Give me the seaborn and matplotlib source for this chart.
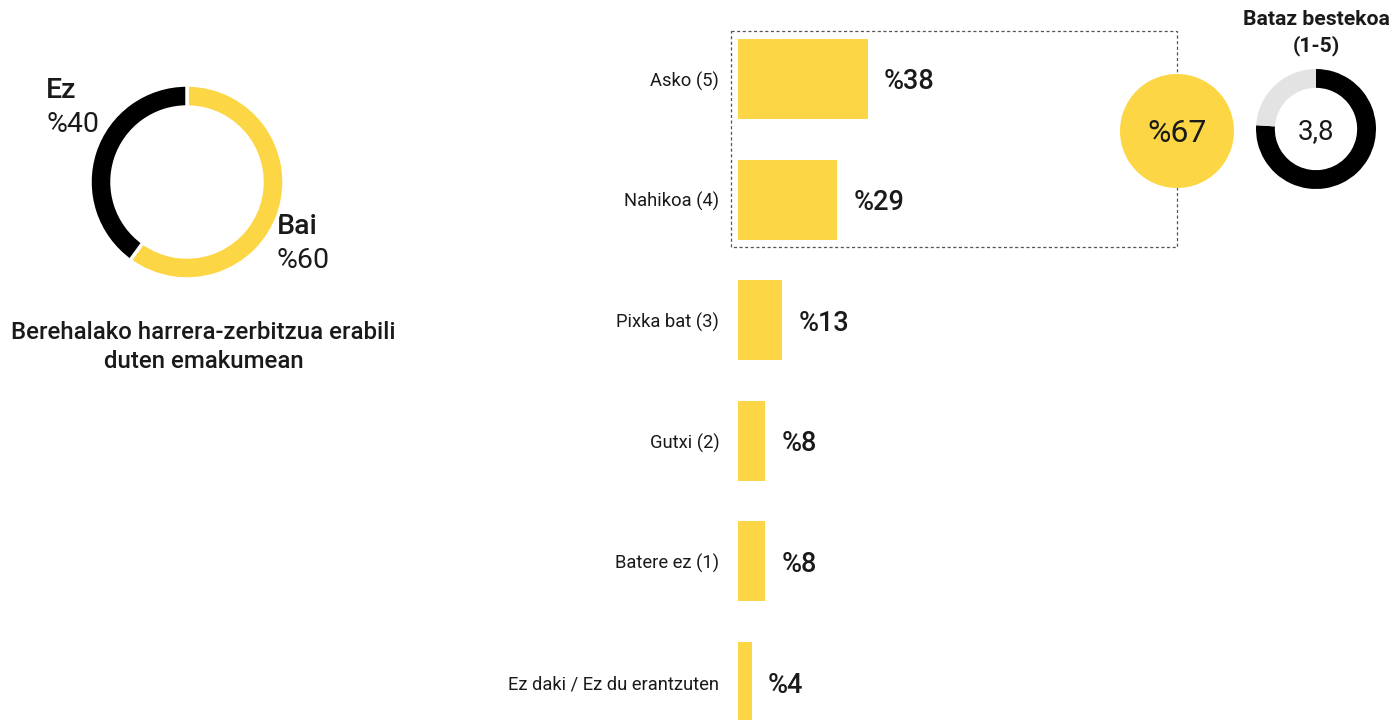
import matplotlib
matplotlib.use("Agg")
import matplotlib.pyplot as plt
from matplotlib.patches import Rectangle, Circle
import seaborn as sns
import pandas as pd

# ---- data ----
categories = ["Asko (5)", "Nahikoa (4)", "Pixka bat (3)", "Gutxi (2)", "Batere ez (1)", "Ez daki / Ez du erantzuten"]
values = [38, 29, 13, 8, 8, 4]
value_labels = ["%38", "%29", "%13", "%8", "%8", "%4"]

donut_labels = ["Bai", "Ez"]
donut_values = [60, 40]
donut_pct = ["%60", "%40"]
donut_title = ["Berehalako harrera-zerbitzua erabili", "duten emakumean"]

top2_value = 67
top2_label = "%67"

mean_value = 3.8
mean_max = 5
mean_label = "3,8"
mean_title = ["Bataz bestekoa", "(1-5)"]

YELLOW = "#FDD645"
BLACK = "#000000"
GRAY = "#E3E3E3"
TEXT = "#1a1a1a"

sns.set_theme(style="white")
plt.rcParams["font.family"] = ["Roboto", "DejaVu Sans"]

W, H = 1394, 720
fig = plt.figure(figsize=(W / 100, H / 100), dpi=100)
fig.patch.set_facecolor("white")

def ax_px(left, top, width, height):
    return fig.add_axes([left / W, (H - top - height) / H, width / W, height / H])

# ---- bar chart ----
df = pd.DataFrame({"cat": categories, "val": values})
axb = ax_px(738, 0, 342, 720)
sns.barplot(data=df, x="val", y="cat", orient="h", color=YELLOW, saturation=1,
            width=0.663, ax=axb, linewidth=0)
axb.set_xlim(0, 100)
axb.set_ylim(5.315, -0.655)
axb.set_xlabel("")
axb.set_ylabel("")
axb.set_xticks([])
axb.tick_params(axis="y", length=0, pad=13.5, labelsize=13.2, labelcolor=TEXT)
for s in axb.spines.values():
    s.set_visible(False)
axb.patch.set_alpha(0)
for i, (v, lab) in enumerate(zip(values, value_labels)):
    axb.annotate(lab, xy=(v, i), xytext=(16, 0), textcoords="offset pixels",
                 ha="left", va="center_baseline", fontsize=19.5, fontweight="medium",
                 color=TEXT, annotation_clip=False)

# ---- overlay ----
ov = ax_px(0, 0, W, H)
ov.set_xlim(0, W)
ov.set_ylim(H, 0)
ov.axis("off")
ov.patch.set_alpha(0)
ov.add_patch(Rectangle((731, 31), 1177 - 731, 247 - 31, fill=False,
                       edgecolor="#555555", linewidth=0.9, linestyle=(0, (2.5, 2))))
ov.add_patch(Circle((1177, 131), 57, facecolor=YELLOW, edgecolor="none"))
ov.text(1177, 131, top2_label, ha="center", va="center_baseline", fontsize=23, color=TEXT)

# left donut labels
ov.text(46, 98, donut_labels[1], ha="left", va="baseline", fontsize=20.5, fontweight="medium", color=TEXT)
ov.text(46, 132, donut_pct[1], ha="left", va="baseline", fontsize=20.5, color=TEXT)
ov.text(277, 234, donut_labels[0], ha="left", va="baseline", fontsize=20.5, fontweight="medium", color=TEXT)
ov.text(277, 268, donut_pct[0], ha="left", va="baseline", fontsize=20.5, color=TEXT)
ov.text(203.5, 339, donut_title[0], ha="center", va="baseline", fontsize=17.3, fontweight="medium", color=TEXT)
ov.text(203.5, 368, donut_title[1], ha="center", va="baseline", fontsize=17.3, fontweight="medium", color=TEXT)

# right donut title
ov.text(1316, 25, mean_title[0], ha="center", va="baseline", fontsize=15.2, fontweight="bold", color=TEXT)
ov.text(1316, 51, mean_title[1], ha="center", va="baseline", fontsize=15.2, fontweight="bold", color=TEXT)

# ---- left donut ----
axd = ax_px(87, 82, 200, 200)
axd.pie(donut_values, colors=[YELLOW, BLACK], startangle=90, counterclock=False,
        radius=0.97, wedgeprops=dict(width=0.22, edgecolor="white", linewidth=2.5))
axd.set_xlim(-1, 1)
axd.set_ylim(-1, 1)
axd.set_aspect("equal")
axd.axis("off")

# ---- right donut ----
axm = ax_px(1251, 64, 130, 130)
axm.pie([mean_value, mean_max - mean_value], colors=[BLACK, GRAY], startangle=90,
        counterclock=False, radius=0.923, wedgeprops=dict(width=0.29, linewidth=0))
axm.set_xlim(-1, 1)
axm.set_ylim(-1, 1)
axm.set_aspect("equal")
axm.axis("off")
axm.text(0, 0, mean_label, ha="center", va="center_baseline", fontsize=20, color=TEXT)

fig.savefig("out.png", dpi=100, facecolor="white")
